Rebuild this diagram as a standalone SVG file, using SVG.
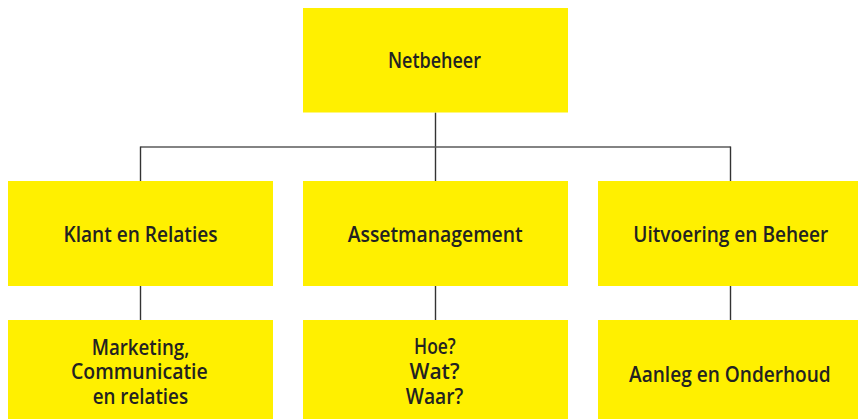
<svg xmlns="http://www.w3.org/2000/svg" width="858" height="419" viewBox="0 0 858 419">
<style>
.box{fill:#FFF000;}
.lbl{font-family:"Open Sans","Liberation Sans",sans-serif;font-weight:600;font-size:21px;fill:#222222;text-anchor:middle;}
.ln{stroke:#333333;stroke-width:1.4;fill:none;}
.hl{stroke:#5a5a5a;stroke-width:1.6;fill:none;}
</style>
<rect width="858" height="419" fill="#ffffff"/>
<g id="connectors">
<line class="ln" x1="435.5" y1="112.5" x2="435.5" y2="181"/>
<line class="hl" x1="140.5" y1="147" x2="730.5" y2="147"/>
<line class="ln" x1="140.5" y1="146.5" x2="140.5" y2="181"/>
<line class="ln" x1="730.5" y1="146.5" x2="730.5" y2="181"/>
<line class="ln" x1="140.5" y1="286" x2="140.5" y2="320"/>
<line class="ln" x1="435.5" y1="286" x2="435.5" y2="320"/>
<line class="ln" x1="730.5" y1="286" x2="730.5" y2="320"/>
</g>
<g id="netbeheer">
<rect class="box" x="303" y="8" width="265" height="104.5"/>
<text class="lbl" x="434.5" y="67.7" textLength="93" lengthAdjust="spacingAndGlyphs">Netbeheer</text>
</g>
<g id="klant">
<rect class="box" x="8" y="181" width="265" height="105"/>
<text class="lbl" x="140.5" y="241.7" textLength="154" lengthAdjust="spacingAndGlyphs">Klant en Relaties</text>
</g>
<g id="asset">
<rect class="box" x="303" y="181" width="265" height="105"/>
<text class="lbl" x="435.2" y="241.7" textLength="175" lengthAdjust="spacingAndGlyphs">Assetmanagement</text>
</g>
<g id="uitvoering">
<rect class="box" x="598" y="181" width="265" height="105"/>
<text class="lbl" x="730.8" y="241.7" textLength="195" lengthAdjust="spacingAndGlyphs">Uitvoering en Beheer</text>
</g>
<g id="marketing">
<rect class="box" x="8" y="320" width="265" height="99"/>
<text class="lbl" x="140.5" y="355" textLength="97.6" lengthAdjust="spacingAndGlyphs">Marketing,</text>
<text class="lbl" x="139.4" y="379.3" textLength="136.7" lengthAdjust="spacingAndGlyphs">Communicatie</text>
<text class="lbl" x="140.4" y="404" textLength="95.3" lengthAdjust="spacingAndGlyphs">en relaties</text>
</g>
<g id="vragen">
<rect class="box" x="303" y="320" width="265" height="99"/>
<text class="lbl" x="434.9" y="354" textLength="41.7" lengthAdjust="spacingAndGlyphs">Hoe?</text>
<text class="lbl" x="434.5" y="379" textLength="50" lengthAdjust="spacingAndGlyphs">Wat?</text>
<text class="lbl" x="434.5" y="404" textLength="57.6" lengthAdjust="spacingAndGlyphs">Waar?</text>
</g>
<g id="aanleg">
<rect class="box" x="598" y="320" width="265" height="99"/>
<text class="lbl" x="729.9" y="381.7" textLength="201.7" lengthAdjust="spacingAndGlyphs">Aanleg en Onderhoud</text>
</g>
</svg>
